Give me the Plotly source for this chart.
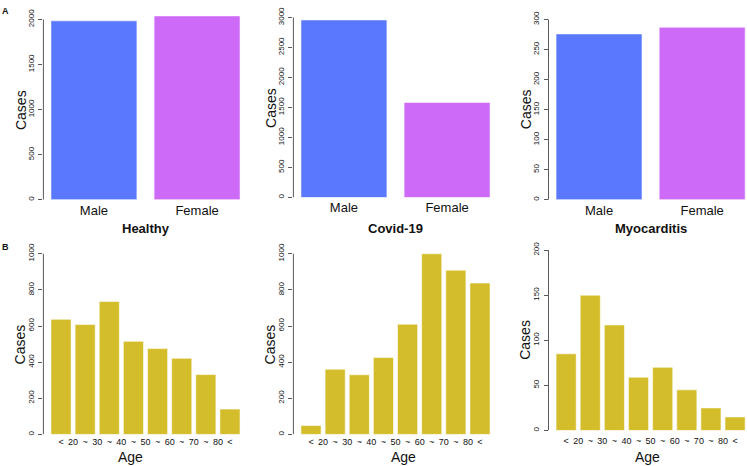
import plotly.graph_objects as go

# ---------------- data ----------------
groups = ["Healthy", "Covid-19", "Myocarditis"]
sex_labels = ["Male", "Female"]
sex_healthy = [1985, 2040]
sex_covid = [2960, 1585]
sex_myo = [276, 287]

age_groups = ["<20", "20~30", "30~40", "40~50", "50~60", "60~70", "70~80", "80<"]
age_tick_text = ["<", "20", "~", "30", "~", "40", "~", "50", "~", "60", "~", "70", "~", "80", "<"]
age_healthy = [637, 608, 736, 515, 475, 421, 331, 140]
age_covid = [49, 361, 330, 426, 610, 1000, 909, 838]
age_myo = [85, 150, 117, 59, 70, 45, 25, 15]

sex_yticks = [[0, 500, 1000, 1500, 2000],
              [0, 500, 1000, 1500, 2000, 2500, 3000],
              [0, 50, 100, 150, 200, 250, 300]]
age_yticks = [[0, 200, 400, 600, 800, 1000],
              [0, 200, 400, 600, 800, 1000],
              [0, 50, 100, 150, 200]]

# ---------------- style / layout constants ----------------
W, H = 747, 466
FONT = "Liberation Sans, Arial, Helvetica, sans-serif"
BLUE = "#5a78fd"
PURPLE = "#cd6af7"
YELLOW = "#d4bd2a"
EDGE = "rgba(255,255,255,0.55)"
AXC = "#5a5a5a"

col_left = [43.4, 293.4, 548.5]
col_width = 204.2
BAR_W = 1 / 1.2
# (zero px, top-tick px, range top) per panel
top_y = [(197.3, 14.7, 2100), (195.0, 12.7, 3100), (197.3, 14.7, 306)]
bot_y = [(435.0, 252.0, 1045), (435.0, 252.0, 1045), (431.0, 248.3, 206)]
age_title_x = [130, 404, 647]

def px_x(p):
    return min(max(p / W, 0), 1)

def px_y(p):
    return min(max(1 - p / H, 0), 1)

fig = go.Figure()
annotations = []
shapes = []

def add_panel(idx, xvals, yvals, colors, ticks, ypix, tickvals, ticktext, tickfont, standoff):
    n = len(yvals)
    span = (n - 1) + BAR_W
    pad = 0.04 * span
    full = span + 2 * pad
    ppu = col_width / full
    left = col_left[idx % 3]
    right_px = min(left + col_width, W)
    xr0 = -BAR_W / 2 - pad
    xr1 = xr0 + (right_px - left) / ppu
    y0px, ytpx, rtop = ypix
    T = ticks[-1]
    ppv = (y0px - ytpx) / T
    top_px = y0px - rtop * ppv
    ax = "" if idx == 0 else str(idx + 1)
    fig.add_trace(go.Bar(
        x=xvals, y=yvals, width=BAR_W,
        marker=dict(color=colors, line=dict(color=EDGE, width=1)),
        xaxis="x" + ax, yaxis="y" + ax, showlegend=False,
    ))
    fig.layout["xaxis" + ax] = dict(
        domain=[px_x(left), px_x(right_px)], range=[xr0, xr1], anchor="y" + ax,
        showgrid=False, zeroline=False, showline=False, ticks="",
        tickmode="array", tickvals=tickvals, ticktext=ticktext,
        tickfont=dict(family=FONT, size=tickfont, color="#111"),
        ticklabelstandoff=standoff, fixedrange=True,
    )
    fig.layout["yaxis" + ax] = dict(
        domain=[px_y(y0px), px_y(top_px)], range=[0, rtop], anchor="x" + ax,
        showgrid=False, zeroline=False, showline=False,
        ticks="outside", ticklen=4, tickcolor=AXC, tickwidth=1,
        tickmode="array", tickvals=ticks, ticktext=[str(t) for t in ticks],
        tickangle=-90, tickfont=dict(family=FONT, size=8, color="#111"),
        ticklabelstandoff=1, fixedrange=True,
    )
    shapes.append(dict(type="line", xref="x" + ax + " domain", x0=0, x1=0,
                       yref="y" + ax, y0=0, y1=T, line=dict(color=AXC, width=1)))
    annotations.append(dict(text="Cases", textangle=-90, showarrow=False,
                            xref="paper", yref="paper",
                            x=px_x(left - 23), y=px_y((y0px + ytpx) / 2),
                            xanchor="center", yanchor="middle",
                            font=dict(family=FONT, size=14, color="#111")))
    return left, right_px

sex_data = [sex_healthy, sex_covid, sex_myo]
age_data = [age_healthy, age_covid, age_myo]

for i in range(3):
    xs = list(range(len(sex_labels)))
    left, rp = add_panel(i, xs, sex_data[i], [BLUE, PURPLE], sex_yticks[i], top_y[i],
                         xs, sex_labels, 13, 1)
    annotations.append(dict(text="<b>" + groups[i] + "</b>", showarrow=False,
                            xref="paper", yref="paper",
                            x=(left + col_width / 2) / W,
                            y=px_y(226), xanchor="center", yanchor="middle",
                            font=dict(family=FONT, size=13, color="#111")))

for i in range(3):
    xs = list(range(len(age_groups)))
    tv = [k / 2 for k in range(len(age_tick_text))]
    so = 1 if i < 2 else 4
    left, rp = add_panel(i + 3, xs, age_data[i], [YELLOW] * len(xs), age_yticks[i], bot_y[i],
                         tv, age_tick_text, 9, so)
    annotations.append(dict(text="Age", showarrow=False, xref="paper", yref="paper",
                            x=px_x(age_title_x[i]), y=px_y(458),
                            xanchor="center", yanchor="middle",
                            font=dict(family=FONT, size=14, color="#111")))

annotations.append(dict(text="<b>A</b>", showarrow=False, xref="paper", yref="paper",
                        x=px_x(5), y=px_y(6), xanchor="center", yanchor="middle",
                        font=dict(family=FONT, size=9, color="#111")))
annotations.append(dict(text="<b>B</b>", showarrow=False, xref="paper", yref="paper",
                        x=px_x(5), y=px_y(245), xanchor="center", yanchor="middle",
                        font=dict(family=FONT, size=9, color="#111")))

fig.update_layout(
    width=W, height=H, margin=dict(l=0, r=0, t=0, b=0),
    paper_bgcolor="white", plot_bgcolor="white",
    bargap=0, annotations=annotations, shapes=shapes,
    font=dict(family=FONT), hovermode=False,
)

fig.write_html(
    "out.html",
    config={"displayModeBar": False, "staticPlot": True},
    post_script="document.body.style.margin='0px';document.body.style.overflow='hidden';"
                "document.documentElement.style.overflow='hidden';",
)
